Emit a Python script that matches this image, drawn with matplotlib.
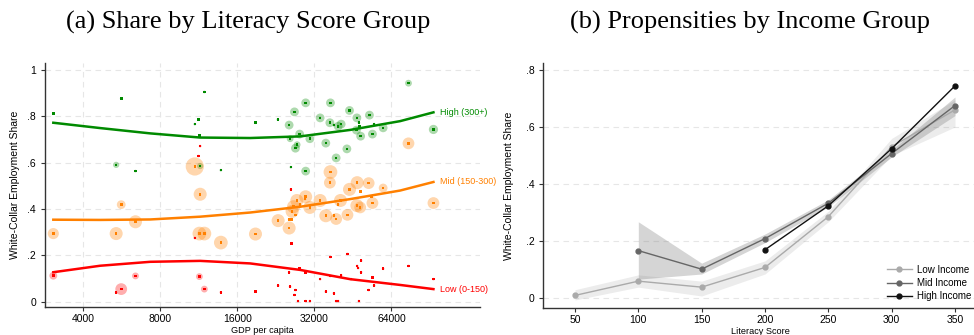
import matplotlib
matplotlib.use("Agg")
import matplotlib.pyplot as plt
from matplotlib.ticker import NullLocator

plt.rcParams["font.family"] = "Liberation Sans"

# Panel (a): white-collar share by literacy group, countries by GDP per capita
green_gdp = [3050, 5620, 11880, 10900, 11260, 11360, 5370, 6390, 11440, 13780,
             18820, 23020, 25480, 26730, 29570, 36960, 33680, 36760, 39610,
             38110, 40700, 43870, 46880, 47740, 48000, 46700, 48500, 52500,
             54760, 53930, 59390, 74600, 93400, 28010, 25710, 30700, 35450,
             27380, 26970, 42850, 38900, 25880, 29570]
green_share = [0.813, 0.878, 0.906, 0.767, 0.787, 0.718, 0.591, 0.564, 0.586,
               0.568, 0.773, 0.787, 0.763, 0.820, 0.859, 0.859, 0.794, 0.773,
               0.758, 0.763, 0.767, 0.826, 0.794, 0.773, 0.758, 0.741, 0.715,
               0.806, 0.767, 0.724, 0.751, 0.944, 0.744, 0.724, 0.704, 0.704,
               0.685, 0.678, 0.663, 0.660, 0.621, 0.581, 0.564]
green_w = [2, 2, 2, 2, 2, 2, 10, 2, 10, 2, 2, 2, 20, 20, 20, 20, 20, 20, 20,
           2, 20, 20, 20, 2, 2, 20, 20, 20, 2, 20, 20, 12, 22, 20, 12, 20, 20,
           12, 20, 20, 20, 2, 20]

orange_gdp = [3050, 5620, 5370, 6390, 10900, 11440, 11360, 11880, 13780,
              18820, 74600, 93400, 36960, 36760, 43870, 47010, 52130, 59390,
              48500, 53500, 53930, 46880, 48300, 40450, 39610, 33680, 43080,
              35450, 38110, 38900, 29570, 29400, 27310, 28100, 26500, 26170,
              26970, 25480, 26010, 23080, 25480, 30700]
orange_share = [0.294, 0.419, 0.294, 0.345, 0.584, 0.464, 0.294, 0.294, 0.255,
                0.292, 0.684, 0.426, 0.560, 0.514, 0.485, 0.514, 0.512, 0.491,
                0.475, 0.453, 0.426, 0.415, 0.407, 0.437, 0.419, 0.437, 0.375,
                0.371, 0.371, 0.357, 0.453, 0.443, 0.437, 0.419, 0.410, 0.390,
                0.375, 0.356, 0.356, 0.350, 0.318, 0.407]
orange_w = [32, 20, 44, 44, 86, 44, 49, 49, 49, 44, 36, 36, 49, 36, 44, 44, 36,
            20, 2, 2, 36, 44, 36, 44, 2, 44, 36, 44, 2, 36, 44, 2, 44, 2, 44,
            44, 2, 2, 2, 44, 44, 44]

red_gdp = [3050, 5620, 5370, 6390, 11360, 11880, 13780, 10900, 11260, 11440,
           25880, 26010, 43080, 36960, 48700, 47010, 47400, 28010, 29570,
           25480, 59390, 48700, 74600, 40700, 36960, 44500, 33680, 53930,
           93400, 23080, 25700, 18820, 26970, 26700, 35450, 38110, 52130,
           54760, 27600, 29570, 30700, 38900, 39610, 47740]
red_share = [0.112, 0.054, 0.039, 0.111, 0.108, 0.054, 0.040, 0.275, 0.629,
             0.672, 0.485, 0.252, 0.206, 0.193, 0.177, 0.154, 0.145, 0.142,
             0.125, 0.127, 0.142, 0.127, 0.154, 0.114, 0.111, 0.097, 0.097,
             0.105, 0.097, 0.069, 0.065, 0.043, 0.050, 0.029, 0.043, 0.036,
             0.050, 0.069, 0.002, 0.002, 0.002, 0.002, 0.002, 0.002]
red_w = [16, 36, 2, 12, 12, 12, 2, 2, 2, 2, 2, 2, 2, 2, 2, 2, 2, 2, 2, 2, 2,
         2, 2, 2, 2, 2, 2, 2, 2, 2, 2, 2, 2, 2, 2, 2, 2, 2, 2, 2, 2, 2, 2, 2]

# fitted curves read at fixed GDP levels
fit_gdp = [3050, 4650, 7300, 11440, 17940, 28130, 44140, 69220, 93400]
fit_high = [0.773, 0.750, 0.727, 0.709, 0.707, 0.714, 0.742, 0.780, 0.818]
fit_mid = [0.354, 0.353, 0.355, 0.367, 0.385, 0.410, 0.443, 0.480, 0.517]
fit_low = [0.127, 0.155, 0.172, 0.176, 0.165, 0.137, 0.097, 0.072, 0.054]

gdp_ticks = [4000, 8000, 16000, 32000, 64000]
share_ticks_a = [0, 0.2, 0.4, 0.6, 0.8, 1.0]
share_labels_a = ["0", ".2", ".4", ".6", ".8", "1"]

# Panel (b): predicted propensities by income group
lit = [50, 100, 150, 200, 250, 300, 350]
low_inc = [0.010, 0.060, 0.039, 0.108, 0.286, 0.531, 0.660]
low_lo = [-0.006, 0.039, 0.008, 0.085, 0.268, 0.500, 0.600]
low_hi = [0.030, 0.082, 0.060, 0.131, 0.305, 0.560, 0.695]
lit_mid = [100, 150, 200, 250, 300, 350]
mid_inc = [0.167, 0.102, 0.209, 0.333, 0.507, 0.675]
mid_lo = [0.067, 0.085, 0.195, 0.320, 0.495, 0.640]
mid_hi = [0.268, 0.123, 0.225, 0.345, 0.520, 0.705]
lit_high = [200, 250, 300, 350]
high_inc = [0.170, 0.324, 0.524, 0.744]

share_ticks_b = [0, 0.2, 0.4, 0.6, 0.8]
share_labels_b = ["0", ".2", ".4", ".6", ".8"]

GREEN, ORANGE, RED = "#008a00", "#ff8000", "#ff0000"
TICK_FS = 7.5


def style_axes(ax):
    for side in ("top", "right"):
        ax.spines[side].set_visible(False)
    for side in ("left", "bottom"):
        ax.spines[side].set_color("#333333")
        ax.spines[side].set_linewidth(1.0)
    ax.tick_params(labelsize=TICK_FS, length=3, width=0.8, colors="#333333",
                   labelcolor="black")
    ax.tick_params(axis="x", pad=2.5)
    ax.set_axisbelow(True)


fig = plt.figure(figsize=(9.74, 3.35), dpi=100)

# ---- (a) ----
ax = fig.add_axes([0.0462, 0.0845, 0.4466, 0.7266])
groups = [(green_gdp, green_share, green_w, GREEN),
          (orange_gdp, orange_share, orange_w, ORANGE),
          (red_gdp, red_share, red_w, RED)]
for gx, gy, gw, col in groups:
    ax.scatter(gx, gy, s=[2 * w for w in gw], color=col, alpha=0.32,
               edgecolors="none", zorder=2)
for gx, gy, gw, col in groups:
    ax.scatter(gx, gy, s=3.5, marker="s", color=col, edgecolors="none",
               zorder=3)
for fy, col, lab in [(fit_high, GREEN, "High (300+)"),
                     (fit_mid, ORANGE, "Mid (150-300)"),
                     (fit_low, RED, "Low (0-150)")]:
    ax.plot(fit_gdp, fy, color=col, lw=1.8, zorder=4)
    ax.annotate(lab, (fit_gdp[-1], fy[-1]), xytext=(5, 0),
                textcoords="offset points", va="center", ha="left",
                color=col, fontsize=6.5)
ax.set_xscale("log")
ax.set_xlim(2830, 142000)
ax.set_ylim(-0.022, 1.03)
ax.set_xticks(gdp_ticks)
ax.set_xticklabels([str(t) for t in gdp_ticks])
ax.xaxis.set_minor_locator(NullLocator())
ax.set_yticks(share_ticks_a)
ax.set_yticklabels(share_labels_a)
ax.grid(True, which="major", color="#e6e6e6", linestyle=(0, (5, 4)), lw=0.8)
ax.set_xlabel("GDP per capita", fontsize=6.6)
ax.xaxis.set_label_coords(0.5, -0.079)
ax.set_ylabel("White-Collar Employment Share", fontsize=TICK_FS, labelpad=5)
style_axes(ax)

# ---- (b) ----
bx = fig.add_axes([0.5578, 0.0815, 0.4552, 0.7295])
bx.fill_between(lit, low_lo, low_hi, color="gray", alpha=0.15, lw=0)
bx.fill_between(lit_mid, mid_lo, mid_hi, color="gray", alpha=0.33, lw=0)
bx.plot(lit, low_inc, color="#aaaaaa", lw=1.0, marker="o", ms=3.5,
        label="Low Income")
bx.plot(lit_mid, mid_inc, color="#666666", lw=1.0, marker="o", ms=3.5,
        label="Mid Income")
bx.plot(lit_high, high_inc, color="#111111", lw=1.0, marker="o", ms=3.5,
        label="High Income")
bx.set_xlim(25, 375)
bx.set_ylim(-0.033, 0.823)
bx.set_xticks(lit)
bx.set_yticks(share_ticks_b)
bx.set_yticklabels(share_labels_b)
bx.grid(True, axis="y", color="#e6e6e6", linestyle=(0, (5, 4)), lw=0.8)
bx.set_xlabel("Literacy Score", fontsize=6.6)
bx.xaxis.set_label_coords(0.49, -0.078)
bx.set_ylabel("White-Collar Employment Share", fontsize=TICK_FS, labelpad=8)
bx.legend(loc="lower right", bbox_to_anchor=(0.985, -0.01), frameon=False,
          fontsize=7, handlelength=2.6, labelspacing=0.35, handletextpad=0.5)
style_axes(bx)

fig.text(0.255, 0.934, "(a) Share by Literacy Score Group",
         family="Liberation Serif", fontsize=19, ha="center", va="center")
fig.text(0.770, 0.934, "(b) Propensities by Income Group",
         family="Liberation Serif", fontsize=19, ha="center", va="center")

fig.savefig("out.png", dpi=100)
